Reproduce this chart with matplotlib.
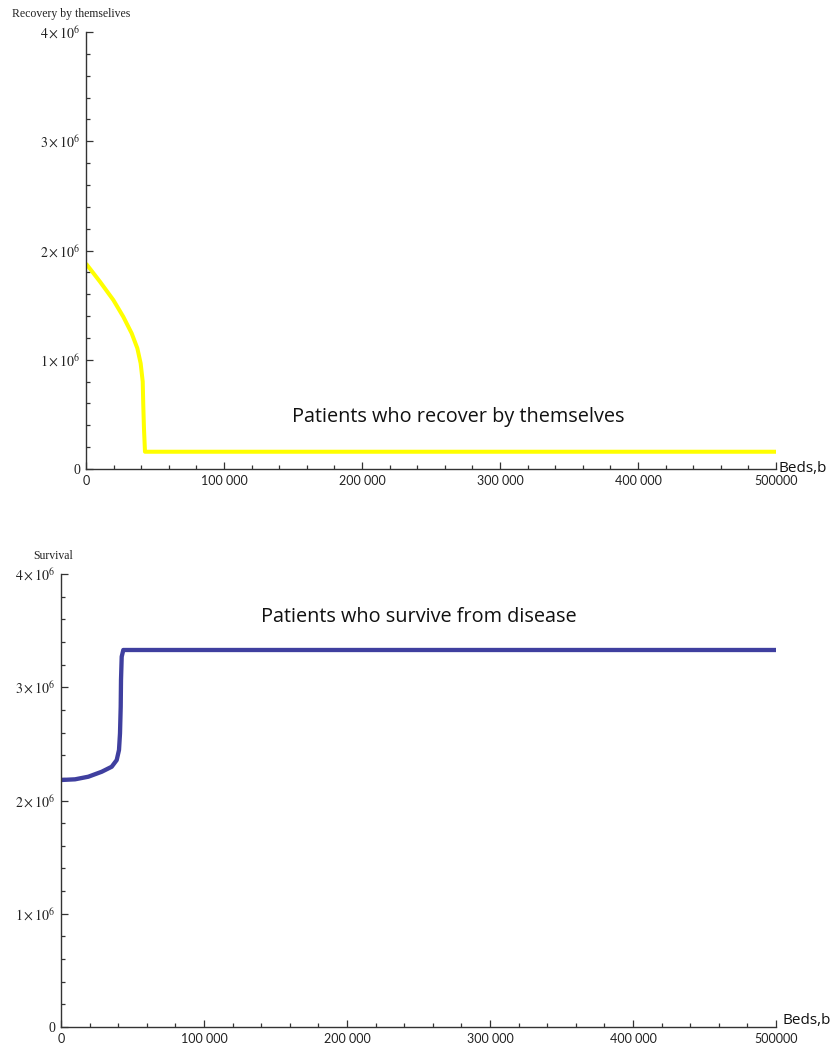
import matplotlib
matplotlib.use("Agg")
import matplotlib.pyplot as plt
from matplotlib.ticker import MultipleLocator, FixedLocator, FixedFormatter

plt.rcParams['mathtext.fontset'] = 'stix'

# ---- data ----
recovery_beds = [0, 10100, 19800, 27000, 33100, 37200, 39600, 41100, 41500, 42000, 42750, 500000]
recovery_vals = [1.88e6, 1.715e6, 1.547e6, 1.394e6, 1.242e6, 1.105e6, 0.967e6, 0.80e6,
                 0.586e6, 0.373e6, 0.158e6, 0.158e6]

survival_beds = [0, 9800, 19100, 28500, 35450, 38950, 40560, 41260, 41750, 41960, 42450, 43570, 500000]
survival_vals = [2.181e6, 2.187e6, 2.21e6, 2.254e6, 2.298e6, 2.357e6, 2.446e6, 2.593e6,
                 2.827e6, 3.064e6, 3.27e6, 3.329e6, 3.329e6]

x_ticks = [0, 100000, 200000, 300000, 400000, 500000]
x_tick_labels = ["0", "100 000", "200 000", "300 000", "400 000", "500000"]
y_ticks = [0, 1e6, 2e6, 3e6, 4e6]
y_tick_labels = ["0", r"$1\times10^{6}$", r"$2\times10^{6}$", r"$3\times10^{6}$", r"$4\times10^{6}$"]

W, H = 835, 1050
fig = plt.figure(figsize=(W / 100, H / 100), dpi=100)

def px_axes(x0, x1, ytop, ybot):
    return fig.add_axes([x0 / W, 1 - ybot / H, (x1 - x0) / W, (ybot - ytop) / H])

def style(ax):
    for s in ['top', 'right']:
        ax.spines[s].set_visible(False)
    for s in ['left', 'bottom']:
        ax.spines[s].set_color('#333333')
        ax.spines[s].set_linewidth(1.0)
    ax.set_xlim(0, 500000)
    ax.set_ylim(0, 4e6)
    ax.xaxis.set_major_locator(FixedLocator(x_ticks))
    ax.xaxis.set_major_formatter(FixedFormatter(x_tick_labels))
    ax.xaxis.set_minor_locator(MultipleLocator(20000))
    ax.yaxis.set_major_locator(FixedLocator(y_ticks))
    ax.yaxis.set_major_formatter(FixedFormatter(y_tick_labels))
    ax.yaxis.set_minor_locator(MultipleLocator(2e5))
    ax.tick_params(which='both', direction='in', color='#333333', width=0.9)
    ax.tick_params(which='major', length=5)
    ax.tick_params(which='minor', length=3)
    ax.tick_params(axis='x', pad=4)
    ax.tick_params(axis='y', pad=4)
    for lab in ax.get_xticklabels():
        lab.set_fontfamily('Lato')
        lab.set_fontsize(9)
        lab.set_color('#222222')
    for lab in ax.get_yticklabels():
        lab.set_fontfamily('Liberation Serif')
        lab.set_fontsize(10)
        lab.set_color('#222222')
    ax.patch.set_alpha(0)

# ---- top panel ----
ax1 = px_axes(86, 776, 32, 469)
style(ax1)
ax1.plot(recovery_beds, recovery_vals, color='#FFFF00', lw=2.9,
         solid_joinstyle='round', solid_capstyle='butt')
ax1.text(0.54, 0.12, "Patients who recover by themselves", transform=ax1.transAxes,
         ha='center', va='center', fontsize=14.3, family='Open Sans', color='#111111')
fig.text(12 / W, 1 - 14 / H, "Recovery by themselives", ha='left', va='center',
         fontsize=8.5, family='Liberation Serif', color='#222222')
fig.text(778 / W, 1 - 468 / H, "Beds,b", ha='left', va='center',
         fontsize=11, family='Open Sans', color='#111111')

# ---- bottom panel ----
ax2 = px_axes(61, 776, 574, 1027)
style(ax2)
ax2.plot(survival_beds, survival_vals, color='#3F3F9F', lw=3.1,
         solid_joinstyle='round', solid_capstyle='butt')
ax2.text(0.50, 0.905, "Patients who survive from disease", transform=ax2.transAxes,
         ha='center', va='center', fontsize=14.3, family='Open Sans', color='#111111')
fig.text(33 / W, 1 - 556 / H, "Survival", ha='left', va='center',
         fontsize=8.5, family='Liberation Serif', color='#222222')
fig.text(782 / W, 1 - 1020 / H, "Beds,b", ha='left', va='center',
         fontsize=11, family='Open Sans', color='#111111')

fig.savefig("out.png", dpi=100, facecolor='white')
